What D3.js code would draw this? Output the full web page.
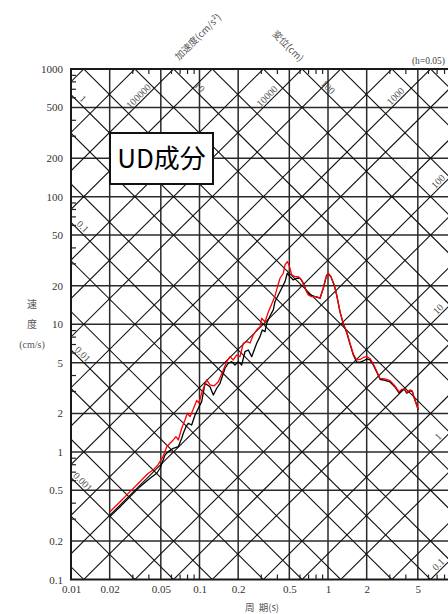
<!DOCTYPE html>
<html>
<head>
<meta charset="utf-8">
<script src="https://cdn.jsdelivr.net/npm/d3@7"></script>
<style>
  body { margin: 0; background: #fff; }
  svg { display: block; }
</style>
</head>
<body>
<svg id="chart" width="448" height="614"></svg>
<script>
// Period axis (s) and pseudo-velocity axis (cm/s)
const periodTicks = [0.01, 0.02, 0.05, 0.1, 0.2, 0.5, 1, 2, 5];
const periodTickLabels = ["0.01", "0.02", "0.05", "0.1", "0.2", "0.5", "1", "2", "5"];
const velocityTicks = [0.1, 0.2, 0.5, 1, 2, 5, 10, 20, 50, 100, 200, 500, 1000];
const velocityTickLabels = ["0.1", "0.2", "0.5", "1", "2", "5", "10", "20", "50", "100", "200", "500", "1000"];
const minorMantissas = [3, 4, 6, 7, 8, 9];

// Diagonal families: acceleration (cm/s²) and displacement (cm), 1-2-5 per decade
const gridMantissas = [1, 2, 5];
const accelDecades = [0.01, 0.1, 1, 10, 100, 1000, 10000, 100000, 1000000];
const dispDecades = [0.0001, 0.001, 0.01, 0.1, 1, 10, 100, 1000];
const accelLabelValues = [0.1, 1, 10, 100, 1000, 10000, 100000];
const accelLabelTexts = ["0.1", "1", "10", "100", "1000", "10000", "100000"];
const dispLabelValues = [0.001, 0.01, 0.1, 1, 10, 100];
const dispLabelTexts = ["0.001", "0.01", "0.1", "1", "10", "100"];

// Response spectrum, black trace
const periodBlack = [0.0201, 0.0241, 0.0288, 0.0344, 0.0412, 0.0465, 0.0493, 0.0539, 0.0572, 0.0625,
  0.0684, 0.0727, 0.0748, 0.0785, 0.0818, 0.0869, 0.0923, 0.0979, 0.1040, 0.1103,
  0.1207, 0.1281, 0.1361, 0.1444, 0.1579, 0.1675, 0.1781, 0.1889, 0.2004, 0.2130,
  0.2260, 0.2398, 0.2548, 0.2787, 0.2956, 0.3081, 0.3234, 0.3334, 0.3537, 0.3752,
  0.3868, 0.4104, 0.4363, 0.4628, 0.4823, 0.5062, 0.5370, 0.5706, 0.6054, 0.6422,
  0.6826, 0.7244, 0.7923, 0.8664, 0.9191, 0.9770, 1.005, 1.055, 1.119, 1.169,
  1.240, 1.315, 1.398, 1.483, 1.574, 1.672, 1.774, 1.883, 2.001, 2.123,
  2.252, 2.393, 2.539, 2.777, 3.038, 3.322, 3.568, 3.745, 3.924, 4.097,
  4.346, 4.529, 4.695, 4.901, 5.043];
const svBlack = [0.311, 0.372, 0.446, 0.534, 0.621, 0.680, 0.744, 0.946, 1.004, 1.067,
  1.098, 1.279, 1.399, 1.576, 1.675, 1.625, 1.946, 2.196, 2.474, 3.448,
  3.243, 2.792, 3.151, 3.448, 4.521, 4.947, 5.092, 4.797, 5.092, 4.797,
  6.099, 6.288, 5.573, 7.097, 7.995, 9.023, 8.750, 10.18, 11.61, 12.95,
  15.04, 16.97, 19.15, 21.58, 25.10, 23.61, 22.24, 22.93, 22.93, 20.96,
  18.01, 16.97, 16.46, 15.99, 19.15, 24.34, 24.79, 23.48, 20.14, 16.82,
  12.49, 10.06, 8.625, 7.008, 5.746, 5.064, 5.019, 5.158, 5.346, 5.251,
  4.797, 4.228, 3.707, 3.627, 3.530, 3.226, 2.894, 3.056, 3.094, 2.879,
  3.018, 2.964, 2.631, 2.332, 2.130];

// Response spectrum, red trace
const periodRed = [0.0201, 0.0241, 0.0288, 0.0344, 0.0397, 0.0435, 0.0475, 0.0520, 0.0556, 0.0589,
  0.0625, 0.0656, 0.0684, 0.0727, 0.0771, 0.0804, 0.0844, 0.0895, 0.0951, 0.0991,
  0.1046, 0.1138, 0.1207, 0.1297, 0.1401, 0.1532, 0.1628, 0.1728, 0.1832, 0.1948,
  0.2066, 0.2192, 0.2330, 0.2472, 0.2622, 0.2787, 0.2956, 0.3048, 0.3234, 0.3431,
  0.3648, 0.3868, 0.4082, 0.4231, 0.4489, 0.4628, 0.4823, 0.4972, 0.5219, 0.5537,
  0.5874, 0.6242, 0.6622, 0.7025, 0.7467, 0.8168, 0.8664, 0.9191, 0.9596, 1.005,
  1.055, 1.119, 1.169, 1.240, 1.315, 1.398, 1.483, 1.574, 1.672, 1.774,
  1.883, 2.001, 2.123, 2.252, 2.393, 2.539, 2.777, 3.038, 3.322, 3.568,
  3.745, 3.924, 4.097, 4.346, 4.529, 4.695, 4.901, 5.043];
const svRed = [0.340, 0.407, 0.488, 0.584, 0.677, 0.722, 0.790, 0.917, 1.098, 1.168,
  1.240, 1.316, 1.240, 1.531, 1.778, 2.007, 1.887, 2.169, 2.528, 2.416,
  2.948, 3.661, 3.344, 3.285, 3.549, 4.384, 5.092, 5.573, 5.251, 5.746,
  5.573, 7.097, 7.304, 7.135, 8.244, 9.023, 9.579, 11.14, 10.42, 12.49,
  14.42, 16.67, 20.32, 22.93, 25.10, 29.15, 30.94, 29.15, 24.34, 23.61,
  23.61, 22.24, 19.15, 16.97, 16.46, 16.46, 15.99, 19.15, 22.93, 25.10,
  23.61, 20.32, 16.97, 12.56, 10.18, 8.750, 7.097, 5.850, 5.251, 5.298,
  5.494, 5.573, 5.395, 4.885, 4.305, 3.760, 3.727, 3.614, 3.285, 2.948,
  3.083, 3.111, 2.921, 3.056, 3.001, 2.646, 2.332, 2.130];

const svg = d3.select("#chart");
const TWO_PI = 2 * Math.PI;

const x = d3.scaleLog().domain([0.01, 10]).range([71, 456.5]);
const y = d3.scaleLog().domain([0.1, 1000]).range([579.5, 69]);
const [x0, x1] = x.range();
const [y0, y1] = y.range();

const numFont = "'Liberation Serif', 'DejaVu Serif', serif";
const cjkFont = "'Noto Sans CJK JP', 'Noto Sans', sans-serif";

svg.append("defs").append("clipPath").attr("id", "plotClip")
  .append("rect").attr("x", x0).attr("y", y1).attr("width", x1 - x0).attr("height", y0 - y1);

const plot = svg.append("g").attr("clip-path", "url(#plotClip)");

// Orthogonal grid
plot.append("g").selectAll("line").data(periodTicks.slice(1)).join("line")
  .attr("x1", d => x(d)).attr("x2", d => x(d)).attr("y1", y1).attr("y2", y0)
  .attr("stroke", "#2a2a2a").attr("stroke-width", 1.5);
plot.append("g").selectAll("line").data(velocityTicks.slice(1, -1)).join("line")
  .attr("y1", d => y(d)).attr("y2", d => y(d)).attr("x1", x0).attr("x2", x1)
  .attr("stroke", "#2a2a2a").attr("stroke-width", 1.5);

// Diagonal grid lines: Sv = Sa·T/2π and Sv = 2π·Sd/T
const tEnds = x.domain();
const accelValues = accelDecades.flatMap(d => gridMantissas.map(m => m * d));
const dispValues = dispDecades.flatMap(d => gridMantissas.map(m => m * d));

plot.append("g").selectAll("line").data(accelValues).join("line")
  .attr("x1", x(tEnds[0])).attr("y1", a => y(a * tEnds[0] / TWO_PI))
  .attr("x2", x(tEnds[1])).attr("y2", a => y(a * tEnds[1] / TWO_PI))
  .attr("stroke", "#111").attr("stroke-width", 1.1);
plot.append("g").selectAll("line").data(dispValues).join("line")
  .attr("x1", x(tEnds[0])).attr("y1", dv => y(TWO_PI * dv / tEnds[0]))
  .attr("x2", x(tEnds[1])).attr("y2", dv => y(TWO_PI * dv / tEnds[1]))
  .attr("stroke", "#111").attr("stroke-width", 1.1);

// Minor ticks along the frame (inward)
const minorV = [0.1, 1, 10, 100].flatMap(d => minorMantissas.map(m => m * d));
const minorT = [0.01, 0.1, 1].flatMap(d => minorMantissas.map(m => m * d)).filter(t => t <= 10);
svg.append("g").attr("transform", `translate(${x0},0)`)
  .call(d3.axisRight(y).tickValues(minorV).tickSize(5).tickFormat(""))
  .call(g => g.select(".domain").remove())
  .call(g => g.selectAll("line").attr("stroke", "#222").attr("stroke-width", 1.2));
svg.append("g").attr("transform", `translate(0,${y0})`)
  .call(d3.axisTop(x).tickValues(minorT).tickSize(5).tickFormat(""))
  .call(g => g.select(".domain").remove())
  .call(g => g.selectAll("line").attr("stroke", "#222").attr("stroke-width", 1.2));
svg.append("g").attr("transform", `translate(0,${y1})`)
  .call(d3.axisBottom(x).tickValues(minorT).tickSize(5).tickFormat(""))
  .call(g => g.select(".domain").remove())
  .call(g => g.selectAll("line").attr("stroke", "#222").attr("stroke-width", 1.2));

// Frame
svg.append("rect").attr("x", x0).attr("y", y1).attr("width", x1 - x0).attr("height", y0 - y1)
  .attr("fill", "none").attr("stroke", "#1a1a1a").attr("stroke-width", 2);

// Tick labels
svg.append("g").attr("transform", `translate(${x0},0)`)
  .call(d3.axisLeft(y).tickValues(velocityTicks).tickSize(0).tickPadding(8)
    .tickFormat((d, i) => velocityTickLabels[i]))
  .call(g => g.select(".domain").remove())
  .call(g => g.selectAll("text").attr("font-family", numFont).attr("font-size", 11).attr("fill", "#333"));
svg.append("g").attr("transform", `translate(0,${y0 + 6})`)
  .call(d3.axisBottom(x).tickValues(periodTicks).tickSize(0).tickPadding(0)
    .tickFormat((d, i) => periodTickLabels[i]))
  .call(g => g.select(".domain").remove())
  .call(g => g.selectAll("text").attr("font-family", numFont).attr("font-size", 11).attr("fill", "#333"));

// Diagonal scale labels
const labelG = svg.append("g").attr("font-family", numFont).attr("font-size", 10)
  .attr("fill", "#555").attr("text-anchor", "middle");

accelLabelValues.forEach((a, i) => {
  const tTop = TWO_PI * y.domain()[1] / a;
  let t, v;
  if (x(tTop) < 445) { v = y.invert(100); t = TWO_PI * v / a; }
  else { t = x.invert(442); v = a * t / TWO_PI; }
  labelG.append("text")
    .attr("transform", `translate(${x(t)},${y(v)}) rotate(-45)`)
    .attr("dy", -2).text(accelLabelTexts[i]);
});

dispLabelValues.forEach((dv, i) => {
  const vLeft = TWO_PI * dv / x.domain()[0];
  let t, v;
  if (vLeft < y.domain()[1]) { t = x.invert(79); v = TWO_PI * dv / t; }
  else { v = y.invert(91); t = TWO_PI * dv / v; }
  labelG.append("text")
    .attr("transform", `translate(${x(t)},${y(v)}) rotate(45)`)
    .attr("dy", -2).text(dispLabelTexts[i]);
});

// Spectrum curves
const line = d3.line().x(d => x(d[0])).y(d => y(d[1]));
svg.append("path").datum(d3.zip(periodBlack, svBlack))
  .attr("d", line).attr("fill", "none").attr("stroke", "#000").attr("stroke-width", 1.3)
  .attr("stroke-linejoin", "round");
svg.append("path").datum(d3.zip(periodRed, svRed))
  .attr("d", line).attr("fill", "none").attr("stroke", "#ff0000").attr("stroke-width", 1.3)
  .attr("stroke-linejoin", "round");

// Component caption
svg.append("rect").attr("x", 110).attr("y", 133).attr("width", 103).attr("height", 51)
  .attr("fill", "#fff").attr("stroke", "#111").attr("stroke-width", 2);
svg.append("text").attr("x", 161.5).attr("y", 168).attr("text-anchor", "middle")
  .attr("font-family", cjkFont).attr("font-size", 26).attr("fill", "#000")
  .text("UD成分");

// Axis titles
svg.append("text").attr("x", 445).attr("y", 64).attr("text-anchor", "end")
  .attr("font-family", numFont).attr("font-size", 9.5).attr("fill", "#444").text("(h=0.05)");
svg.append("text").attr("transform", "translate(198,37) rotate(-45)")
  .attr("text-anchor", "middle").attr("dy", "0.35em")
  .attr("font-family", cjkFont).attr("font-size", 9.5).attr("fill", "#555").text("加速度(cm/s²)");
svg.append("text").attr("transform", "translate(288,46) rotate(45)")
  .attr("text-anchor", "middle").attr("dy", "0.35em")
  .attr("font-family", cjkFont).attr("font-size", 9.5).attr("fill", "#555").text("変位(cm)");

const yTitle = svg.append("g").attr("font-size", 10).attr("fill", "#555").attr("text-anchor", "middle");
yTitle.append("text").attr("x", 32).attr("y", 308).attr("font-family", cjkFont).text("速");
yTitle.append("text").attr("x", 32).attr("y", 328).attr("font-family", cjkFont).text("度");
yTitle.append("text").attr("x", 32).attr("y", 348).attr("font-family", numFont).text("(cm/s)");

svg.append("text").attr("x", 262).attr("y", 611).attr("text-anchor", "middle")
  .attr("font-family", cjkFont).attr("font-size", 9.5).attr("fill", "#555")
  .attr("xml:space", "preserve").text("周  期(s)");
</script>
</body>
</html>
